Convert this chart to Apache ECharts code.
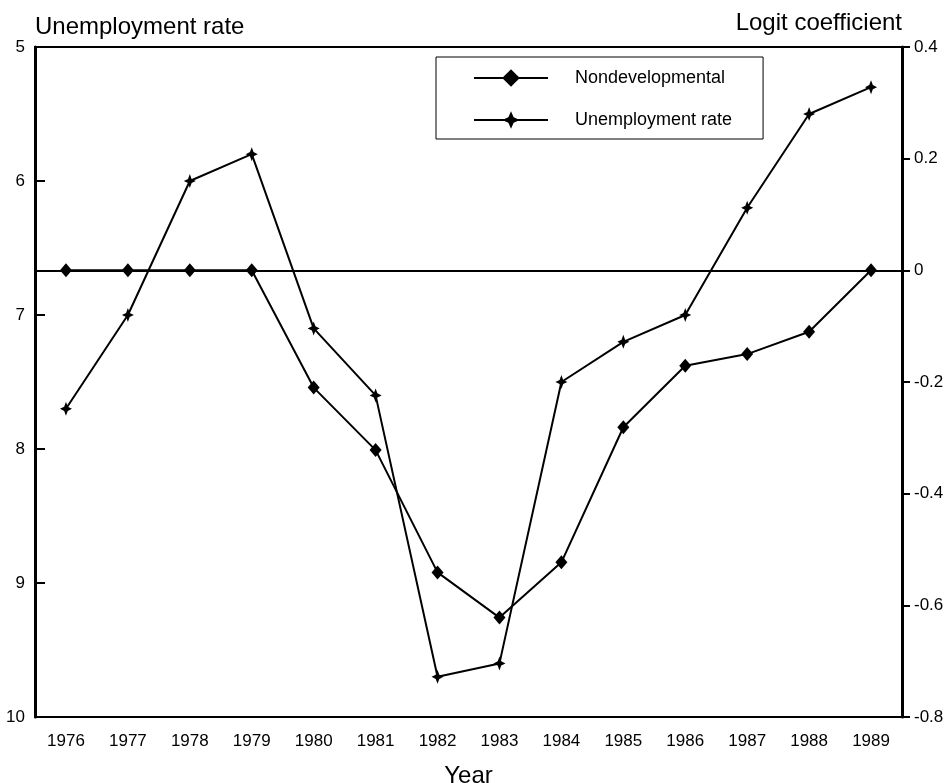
<html>
<head>
    <meta charset="utf-8">
    <title>Unemployment rate and logit coefficient</title>
    <script src="https://cdn.jsdelivr.net/npm/echarts@6/dist/echarts.min.js"></script>
</head>
<body style="margin:0;background:#fff;">
<div id="main" style="width: 948px;height:783px;"></div>
<script type="text/javascript">
    // data
    var years = ['1976', '1977', '1978', '1979', '1980', '1981', '1982',
                 '1983', '1984', '1985', '1986', '1987', '1988', '1989'];
    var nondevelopmental = [0, 0, 0, 0, -0.21, -0.322, -0.541,
                            -0.622, -0.523, -0.281, -0.171, -0.15, -0.11, 0];
    var unemploymentRate = [7.7, 7.0, 6.0, 5.8, 7.1, 7.6, 9.7,
                            9.6, 7.5, 7.2, 7.0, 6.2, 5.5, 5.3];

    var font = 'Liberation Sans, Arial, sans-serif';
    // four-pointed star marker
    var star = 'path://M0,-10 L3,-3 L10,0 L3,3 L0,10 L-3,3 L-10,0 L-3,-3 Z';

    var myChart = echarts.init(document.getElementById('main'));

    var option = {
        backgroundColor: '#fff',
        animation: false,
        textStyle: { fontFamily: font, color: '#000' },
        grid: {
            left: 35, right: 46, top: 47, bottom: 66,
            outerBoundsMode: 'none',
            show: true, borderColor: '#000', borderWidth: 2
        },
        legend: {
            orient: 'vertical',
            left: 436, top: 57,
            padding: [12, 31, 10, 37],
            itemWidth: 74, itemHeight: 22, itemGap: 24,
            borderColor: '#000', borderWidth: 1,
            backgroundColor: '#fff',
            textStyle: { fontSize: 18, color: '#000', fontFamily: font, padding: [0, 0, 0, 22] },
            data: ['Nondevelopmental', 'Unemployment rate']
        },
        xAxis: {
            type: 'category',
            data: years,
            boundaryGap: true,
            name: 'Year',
            nameLocation: 'middle',
            nameGap: 47,
            nameTextStyle: { fontSize: 24, color: '#000' },
            axisLine: { lineStyle: { color: '#000', width: 2 } },
            axisTick: { show: false },
            axisLabel: { fontSize: 17, color: '#000', margin: 16, interval: 0 },
            splitLine: { show: false }
        },
        yAxis: [{
            type: 'value',
            min: 5, max: 10, interval: 1,
            inverse: true,
            name: 'Unemployment rate',
            nameLocation: 'start',
            nameGap: 8,
            nameTextStyle: { fontSize: 24, color: '#000', align: 'left' },
            axisLine: { show: true, lineStyle: { color: '#000', width: 3 } },
            axisTick: { show: true, inside: true, length: 10, lineStyle: { color: '#000', width: 2 } },
            axisLabel: { fontSize: 17, color: '#000', margin: 10 },
            splitLine: { show: false }
        }, {
            type: 'value',
            min: -0.8, max: 0.4, interval: 0.2,
            position: 'right',
            name: 'Logit coefficient',
            nameLocation: 'end',
            nameGap: 12,
            nameTextStyle: { fontSize: 24, color: '#000', align: 'right' },
            axisLine: { show: true, lineStyle: { color: '#000', width: 3 } },
            axisTick: { show: true, inside: false, length: 8, lineStyle: { color: '#000', width: 2 } },
            axisLabel: { fontSize: 17, color: '#000', margin: 12 },
            splitLine: { show: false }
        }],
        series: [{
            name: 'Nondevelopmental',
            type: 'line',
            yAxisIndex: 1,
            data: nondevelopmental,
            symbol: 'diamond',
            symbolSize: [12, 14],
            itemStyle: { color: '#000' },
            lineStyle: { color: '#000', width: 2 },
            markLine: {
                silent: true,
                symbol: 'none',
                label: { show: false },
                lineStyle: { color: '#000', width: 1, type: 'solid' },
                data: [{ yAxis: 0 }]
            }
        }, {
            name: 'Unemployment rate',
            type: 'line',
            yAxisIndex: 0,
            data: unemploymentRate,
            symbol: star,
            symbolSize: [12, 14],
            itemStyle: { color: '#000' },
            lineStyle: { color: '#000', width: 2 }
        }]
    };

    myChart.setOption(option);
</script>
</body>
</html>
